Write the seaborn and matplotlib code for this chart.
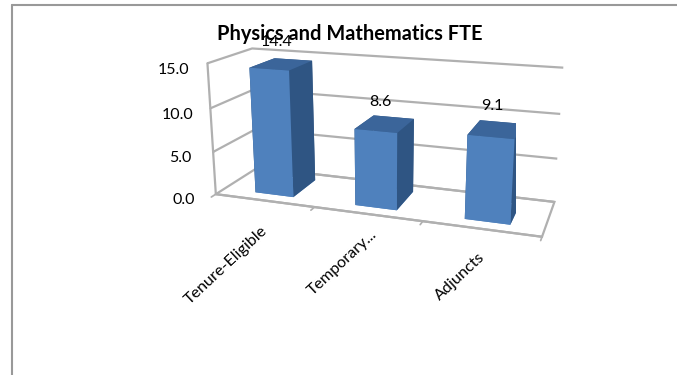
import matplotlib
matplotlib.use('Agg')
import matplotlib.pyplot as plt
from matplotlib.lines import Line2D
from mpl_toolkits.mplot3d import proj3d
import pandas as pd
import seaborn as sns

# Values
categories = ['Tenure-Eligible', 'Temporary...', 'Adjuncts']
fte = [14.4, 8.6, 9.1]
z_ticks = [0, 5, 10, 15]

df = pd.DataFrame({'category': categories, 'fte': fte})

sns.set_theme(style='white')
plt.rcParams['font.family'] = ['Lato', 'DejaVu Sans']
front, side, top = sns.color_palette(['#4f81bd', '#2f5583', '#3b659a'])
grid_color = '#b0b0b0'

fig = plt.figure(figsize=(6.77, 3.75), dpi=100)
ax = fig.add_axes([0.12, 0.27, 0.88, 0.729], projection='3d')
ax.patch.set_alpha(0)
ax.set_proj_type('persp', focal_length=0.518)
ax.view_init(elev=16, azim=-71)
ax.set_box_aspect((2.92, 0.8, 1.2), zoom=1.328)

ax.set_xlim(0, 3)
ax.set_ylim(0, 1)
ax.set_zlim(0, 15)

# Bars (faces: base, top, -y, +y, -x, +x)
faces = [front, top, front, side, side, side]
for i, row in df.iterrows():
    ax.bar3d(i + 0.325, 0.2, 0, 0.39, 0.6, row.fte, color=faces, shade=False,
             edgecolor='none', linewidth=0)
    ax.text(i + 0.48, 0.5, row.fte + 2.4, f'{row.fte:.1f}', ha='center', va='center',
            fontsize=11.5, color='black')

# Category labels are rotated, so they go on as 2D annotations at the projected spot
label_shift = [(1, -20.5), (5.5, -13), (1.5, -19)]
for i, name in enumerate(categories):
    xp, yp, _ = proj3d.proj_transform(i + 0.5, 0, 0, ax.get_proj())
    ax.annotate(name, (xp, yp), xytext=label_shift[i], textcoords='offset points', rotation=43,
                ha='right', va='center', rotation_mode='anchor', fontsize=11.6, color='black')

# Walls and floor
for axis in (ax.xaxis, ax.yaxis, ax.zaxis):
    axis.set_pane_color((1, 1, 1, 0))
    axis.pane.set_edgecolor((1, 1, 1, 0))
    axis._axinfo['grid'].update(color=(0, 0, 0, 0), linewidth=0)
    axis.label.set_visible(False)
    axis.get_offset_text().set_visible(False)
ax.zaxis._axinfo['grid'].update(color=grid_color, linewidth=1.6)
ax.zaxis.pane.set_alpha(None)
ax.zaxis.pane.set_facecolor((1, 1, 1, 0))
ax.zaxis.pane.set_edgecolor(grid_color)
ax.zaxis.pane.set_linewidth(1.6)

ax.set_xticks([0, 1, 2, 3])
ax.set_xticklabels([])
ax.set_yticks([])
ax.set_zticks(z_ticks)
ax.set_zticklabels([f'{t:.1f}' for t in z_ticks], fontsize=11.5, color='black')
ax.zaxis.set_ticks_position('lower')
ax.tick_params(axis='x', color=grid_color, width=1.6)
ax.tick_params(axis='z', color=grid_color, width=1.6, pad=2)
ax.xaxis._axinfo['tick'].update(inward_factor=0, outward_factor=-1.2)
ax.zaxis._axinfo['tick'].update(inward_factor=0, outward_factor=0.2)
ax.yaxis.line.set_color((1, 1, 1, 0))
ax.xaxis.line.set_color(grid_color)
ax.xaxis.line.set_linewidth(1.6)
ax.zaxis.line.set_color(grid_color)
ax.zaxis.line.set_linewidth(1.6)

fig.text(0.517, 0.91, 'Physics and Mathematics FTE', ha='center', va='center',
         fontsize=14.4, fontweight='bold', color='black')

# Chart area border: only the top and left edges fall inside the picture
border = '#999999'
fig.add_artist(Line2D([12 / 677, 1], [1 - 5 / 375, 1 - 5 / 375], color=border, linewidth=1.5))
fig.add_artist(Line2D([12 / 677, 12 / 677], [0, 1 - 5 / 375], color=border, linewidth=1.5))

fig.savefig('out.png', dpi=100)
